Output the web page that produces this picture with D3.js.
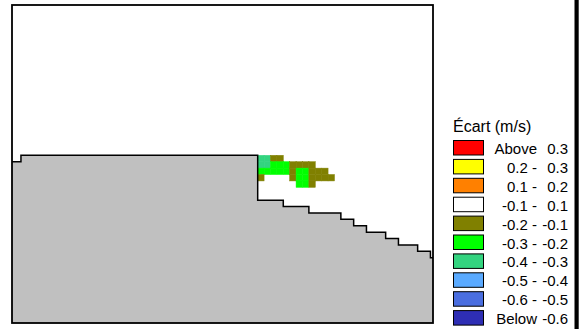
<!DOCTYPE html>
<html>
<head>
<meta charset="utf-8">
<script src="https://cdn.jsdelivr.net/npm/d3@7"></script>
<style>
  body { margin: 0; background: #fff; }
  svg { display: block; font-family: Arial, 'Liberation Sans', sans-serif; }
</style>
</head>
<body>
<div id="chart"></div>
<script>
// terrain profile: distance (cell units) and elevation, held until the next point
const groundX = [-0.4, 1, 38, 42, 46, 51, 53, 55, 58, 60, 63, 65, 65.4];
const groundZ = [25, 26, 19, 18, 17, 16, 15, 14, 13, 12, 11, 10, 10];

// velocity difference grid (m/s), columns start at x = 38, rows from z = 25 downwards
const cellX0 = 38;
const cellZ0 = 25;
const ecart = [
  [-0.35, -0.35, -0.15, -0.15, 0, 0, 0, 0, 0, 0, 0, 0],
  [-0.35, -0.35, -0.25, -0.25, -0.25, -0.15, -0.15, -0.15, -0.15, 0, 0, 0],
  [-0.25, -0.25, -0.25, -0.25, -0.25, -0.15, -0.25, -0.25, -0.15, -0.15, -0.15, 0],
  [-0.15, 0, 0, 0, 0, -0.15, -0.25, -0.25, -0.15, -0.15, -0.15, -0.15],
  [0, 0, 0, 0, 0, 0, -0.25, -0.25, -0.15, 0, 0, 0]
];

const thresholds = [-0.6, -0.5, -0.4, -0.3, -0.2, -0.1, 0.1, 0.2, 0.3];
const colors = ['#2e2eb4', '#4a6ee0', '#5aaaff', '#33d47f', '#00ff00', '#808000', '#ffffff', '#ff8000', '#ffff00', '#ff0000'];
const legendLeft = ['Above', '0.2 -', '0.1 -', '-0.1 -', '-0.2 -', '-0.3 -', '-0.4 -', '-0.5 -', '-0.6 -', 'Below'];
const legendRight = ['0.3', '0.3', '0.2', '0.1', '-0.1', '-0.2', '-0.3', '-0.4', '-0.5', '-0.6'];
const legendTitle = 'Écart (m/s)';

const width = 586;
const height = 329;
const svg = d3.select('#chart').append('svg').attr('width', width).attr('height', height);

const x = d3.scaleLinear().domain([-0.4, 65.4]).range([12, 433]);
const y = d3.scaleLinear().domain([-0.2, 49.49]).range([323, 5]);
const color = d3.scaleThreshold().domain(thresholds).range(colors);

// colored cells
const cells = [];
ecart.forEach((row, r) => {
  row.forEach((v, c) => cells.push({ u: cellX0 + c, z: cellZ0 - r, v }));
});

svg.append('g')
  .selectAll('rect')
  .data(cells.filter((d) => color(d.v) !== '#ffffff'))
  .join('rect')
  .attr('x', (d) => x(d.u))
  .attr('y', (d) => y(d.z + 1))
  .attr('width', (d) => x(d.u + 1) - x(d.u))
  .attr('height', (d) => y(d.z) - y(d.z + 1))
  .attr('fill', (d) => color(d.v))
  .attr('stroke', (d) => color(d.v))
  .attr('stroke-width', 0.5);

// terrain
const ground = groundX.map((u, i) => ({ u, z: groundZ[i] }));

svg.append('path')
  .datum(ground)
  .attr('fill', '#c0c0c0')
  .attr('d', d3.area().curve(d3.curveStepAfter).x((d) => x(d.u)).y0(y(-0.2)).y1((d) => y(d.z)));

svg.append('path')
  .datum(ground)
  .attr('fill', 'none')
  .attr('stroke', '#000')
  .attr('stroke-width', 1.5)
  .attr('d', d3.line().curve(d3.curveStepAfter).x((d) => x(d.u)).y((d) => y(d.z)));

// frame
svg.append('rect')
  .attr('x', x.range()[0])
  .attr('y', y.range()[1])
  .attr('width', x.range()[1] - x.range()[0])
  .attr('height', y.range()[0] - y.range()[1])
  .attr('fill', 'none')
  .attr('stroke', '#000')
  .attr('stroke-width', 1.8);

// thick edge at the right
svg.append('rect').attr('x', 574.5).attr('y', 0).attr('width', 4.2).attr('height', height).attr('fill', '#000');

// legend
const legend = svg.append('g').attr('fill', '#000');
legend.append('text').attr('x', 453).attr('y', 132).attr('font-size', 16).text(legendTitle);

const item = legend.selectAll('g.item')
  .data(legendLeft.map((l, i) => ({ l, r: legendRight[i], c: colors[colors.length - 1 - i] })))
  .join('g')
  .attr('class', 'item')
  .attr('font-size', 15)
  .attr('transform', (d, i) => `translate(0,${140 + i * 18.9})`);

item.append('rect')
  .attr('x', 453.5).attr('y', 0.5)
  .attr('width', 30).attr('height', 14.5)
  .attr('fill', (d) => d.c)
  .attr('stroke', '#000')
  .attr('stroke-width', 1);

item.append('text').attr('x', 537).attr('y', 14).attr('text-anchor', 'end').text((d) => d.l);
item.append('text').attr('x', 568).attr('y', 14).attr('text-anchor', 'end').text((d) => d.r);
</script>
</body>
</html>
